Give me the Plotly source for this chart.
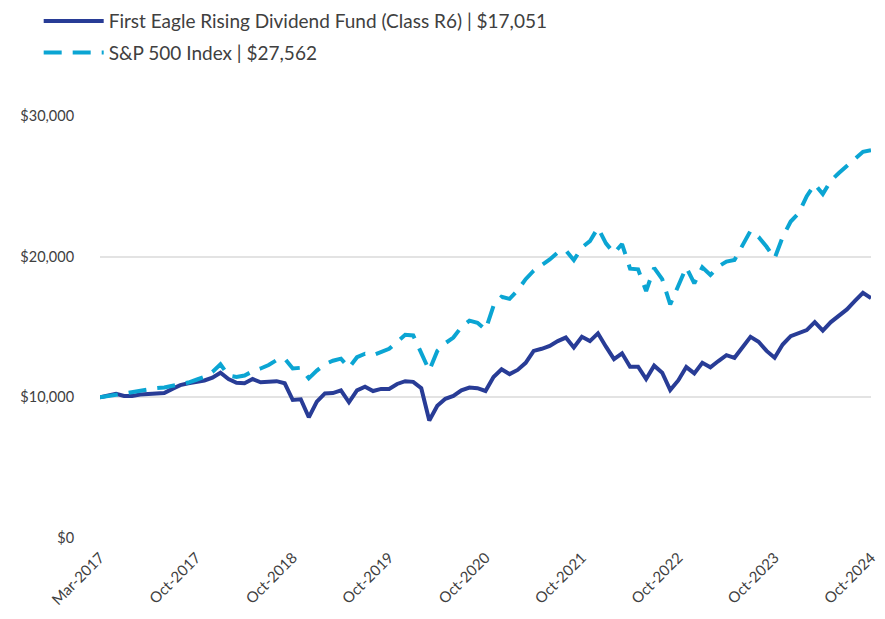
import plotly.graph_objects as go

# Monthly growth of $10,000 (values in $)
fund_values = [
    10000, 10150, 10250, 10100, 10100, 10200, 10250, 10280, 10300, 10600,
    10870, 11000, 11100, 11200, 11400, 11750, 11300, 11040, 11000, 11300,
    11070, 11100, 11150, 11000, 9810, 9860, 8580, 9690, 10280, 10300,
    10500, 9650, 10500, 10750, 10450, 10600, 10600, 10950, 11150, 11100,
    10650, 8350, 9400, 9900, 10100, 10500, 10700, 10650, 10450, 11450,
    12000, 11650, 11950, 12450, 13300, 13450, 13650, 14000, 14250, 13550,
    14300, 14000, 14550, 13600, 12720, 13130, 12180, 12180, 11300, 12250,
    11750, 10520, 11200, 12150, 11700, 12450, 12130, 12580, 13000, 12810,
    13600, 14300, 13950, 13300, 12810, 13750, 14350, 14600, 14780, 15350,
    14750, 15350, 15780, 16250, 16850, 17430, 17051,
]
sp500_values = [
    10000, 10100, 10200, 10250, 10350, 10500, 10600, 10650, 10700, 10800,
    10900, 11050, 11250, 11450, 11800, 12350, 11550, 11450, 11550, 11850,
    12050, 12300, 12650, 12750, 12050, 12100, 11350, 11900, 12350, 12600,
    12750, 12100, 12850, 13100, 13000, 13250, 13450, 13950, 14450, 14400,
    13150, 11900, 13300, 13850, 14250, 15000, 15450, 15300, 14800, 16500,
    17150, 17000, 17600, 18400, 19000, 19400, 19800, 20300, 20450, 19750,
    20650, 21100, 22050, 20950, 20250, 20900, 19150, 19100, 17550, 19200,
    18400, 16600, 17900, 19250, 18100, 19250, 18700, 19300, 19650, 19760,
    20800, 21840, 21400, 20700, 19880, 21400, 22500, 23100, 24300, 25150,
    24450, 25400, 25950, 26450, 26950, 27450, 27562,
]
x_tick_labels = ["Mar-2017", "Oct-2017", "Oct-2018", "Oct-2019", "Oct-2020",
                 "Oct-2021", "Oct-2022", "Oct-2023", "Oct-2024"]
y_tick_values = [0, 10000, 20000, 30000]
y_tick_labels = ["$0", "$10,000", "$20,000", "$30,000"]
series_names = ["First Eagle Rising Dividend Fund (Class R6) | $17,051",
                "S&P 500 Index | $27,562"]

n = len(fund_values)
x = list(range(n))
tick_step = (n - 1) // (len(x_tick_labels) - 1)
x_tick_vals = [i * tick_step for i in range(len(x_tick_labels))]

FONT = "Lato, 'Open Sans', sans-serif"
TXT = "#404040"

fig = go.Figure()
fig.add_trace(go.Scatter(
    x=x, y=fund_values, mode="lines", name=series_names[0],
    legendgroup="fund",
    line=dict(color="#283C96", width=4),
))
fig.add_trace(go.Scatter(
    x=x, y=sp500_values, mode="lines", name=series_names[1],
    legendgroup="index",
    line=dict(color="#0BA5D3", width=4, dash="18px,11px"),
))

fig.update_layout(
    width=877, height=603,
    margin=dict(l=92, r=14, t=108, b=73, autoexpand=False),
    paper_bgcolor="white", plot_bgcolor="white",
    font=dict(family=FONT, color=TXT, size=14),
    showlegend=True,
    legend=dict(
        xref="container", yref="paper", x=0.035, y=1.27,
        xanchor="left", yanchor="top",
        font=dict(family=FONT, size=19, color=TXT),
        traceorder="grouped", tracegroupgap=4, itemwidth=60,
        bgcolor="rgba(0,0,0,0)",
    ),
    xaxis=dict(
        range=[0, n - 1], tickmode="array", tickvals=x_tick_vals,
        ticktext=x_tick_labels, tickangle=-45, showgrid=False,
        zeroline=False, showline=False, ticks="outside", ticklen=4,
        tickcolor="rgba(0,0,0,0)", automargin=False,
        ticklabeloverflow="allow",
        tickfont=dict(family=FONT, size=15, color=TXT),
    ),
    yaxis=dict(
        range=[0, 30000], tickmode="array", tickvals=y_tick_values,
        ticktext=y_tick_labels, showgrid=True, gridcolor="#E3E3E3",
        gridwidth=2, zeroline=False, showline=False, ticks="outside",
        ticklen=22, tickcolor="rgba(0,0,0,0)", automargin=False,
        tickfont=dict(family=FONT, size=14.5, color=TXT),
    ),
)

fig.write_html("out.html")
